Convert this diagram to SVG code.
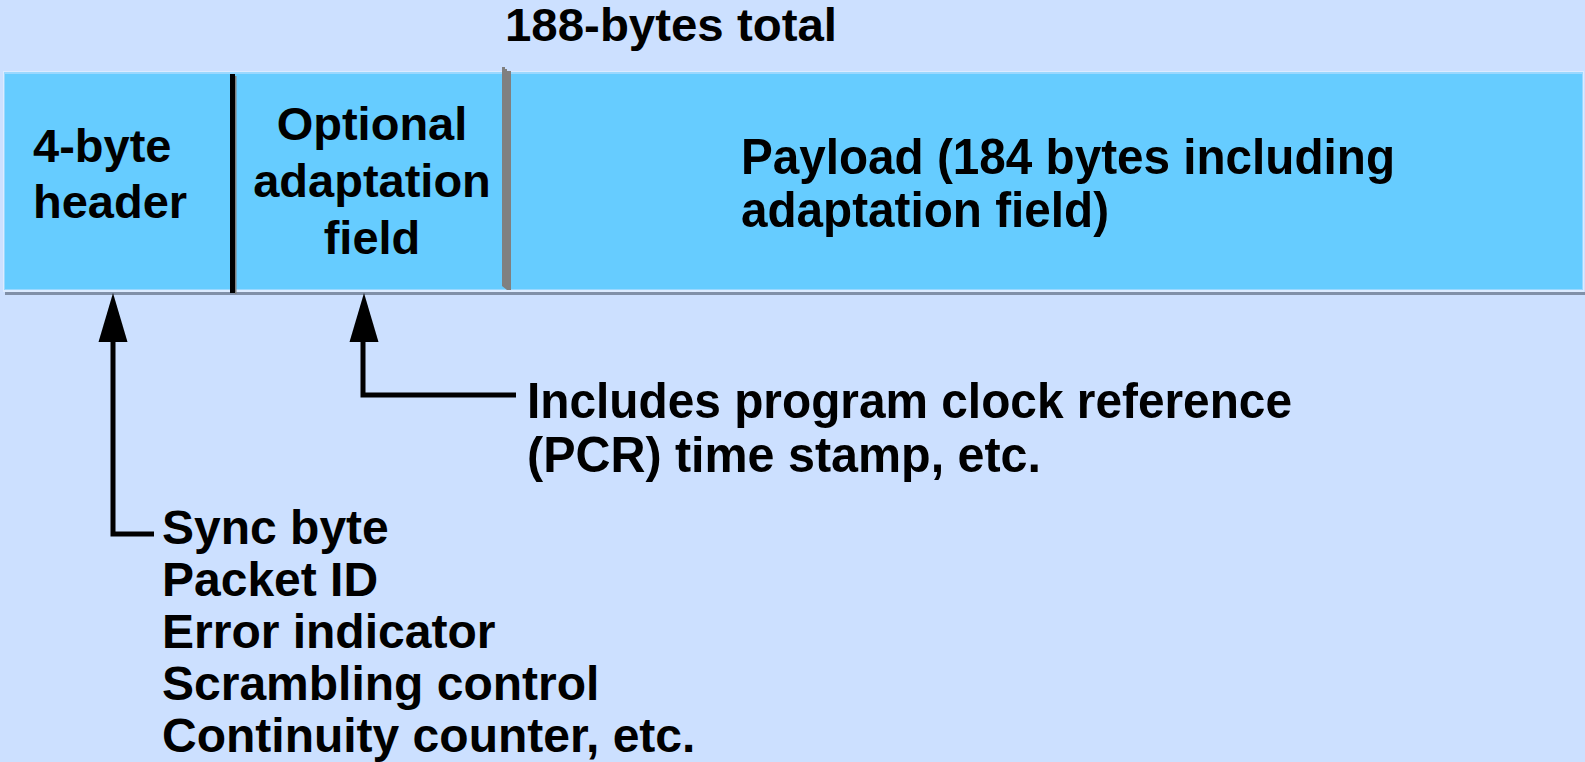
<svg xmlns="http://www.w3.org/2000/svg" width="1585" height="762" viewBox="0 0 1585 762">
<style>
.t{font-family:"Liberation Sans",Arial,sans-serif;font-weight:bold;font-size:47px;fill:#000}
.l{font-family:"Liberation Sans",Arial,sans-serif;font-weight:bold;font-size:48px;fill:#000}
.c{font-family:"Liberation Sans",Arial,sans-serif;font-weight:bold;font-size:50px;fill:#000}
.ln{fill:none;stroke:#000;stroke-width:5}
</style>
<rect width="1585" height="762" fill="#CCE0FF"/>
<text class="t" x="505" y="41" font-size="46" textLength="332" lengthAdjust="spacingAndGlyphs">188-bytes total</text>
<g id="packet">
<rect x="3" y="71" width="1581" height="221" fill="#DCEBFF"/>
<rect x="4" y="72" width="1579" height="218" fill="#9AD8FF"/>
<rect x="5" y="74" width="1577" height="215" fill="#66CCFF"/>
<rect x="5" y="292" width="1580" height="3" fill="#8090A8"/>
</g>
<g id="header">
<text class="t" x="33" y="162">4-byte</text>
<text class="t" x="33" y="218">header</text>
</g>
<g id="divider1">
<rect x="230" y="74" width="5" height="219" fill="#000"/>
<rect x="235" y="76" width="1.5" height="218" fill="#808080"/>
</g>
<g id="adaptation">
<text class="t" x="372" y="140" text-anchor="middle">Optional</text>
<text class="t" x="372" y="197" text-anchor="middle">adaptation</text>
<text class="t" x="372" y="254" text-anchor="middle">field</text>
</g>
<g id="divider2">
<path d="M502,67 L505,67 L505,69 L507,69 L507,71 L511,71 L511,290 L507,290 L502,286 Z" fill="#808080"/>
</g>
<g id="payload">
<text class="c" x="741" y="174" textLength="654" lengthAdjust="spacingAndGlyphs">Payload (184 bytes including</text>
<text class="c" x="741" y="227" textLength="368" lengthAdjust="spacingAndGlyphs">adaptation field)</text>
</g>
<g id="connectors">
<path class="ln" d="M154,534 L113,534 L113,341"/>
<path d="M113,293 L127.5,342 L98.5,342 Z" fill="#000"/>
<path class="ln" d="M516,395 L363,395 L363,341"/>
<path d="M364,293 L378.5,342 L349.5,342 Z" fill="#000"/>
</g>
<g id="pcr-note">
<text class="c" x="527" y="418" textLength="765" lengthAdjust="spacingAndGlyphs">Includes program clock reference</text>
<text class="c" x="527" y="472" textLength="514" lengthAdjust="spacingAndGlyphs">(PCR) time stamp, etc.</text>
</g>
<g id="header-fields">
<text class="l" x="162" y="544">Sync byte</text>
<text class="l" x="162" y="596">Packet ID</text>
<text class="l" x="162" y="648">Error indicator</text>
<text class="l" x="162" y="700">Scrambling control</text>
<text class="l" x="162" y="752">Continuity counter, etc.</text>
</g>
</svg>
